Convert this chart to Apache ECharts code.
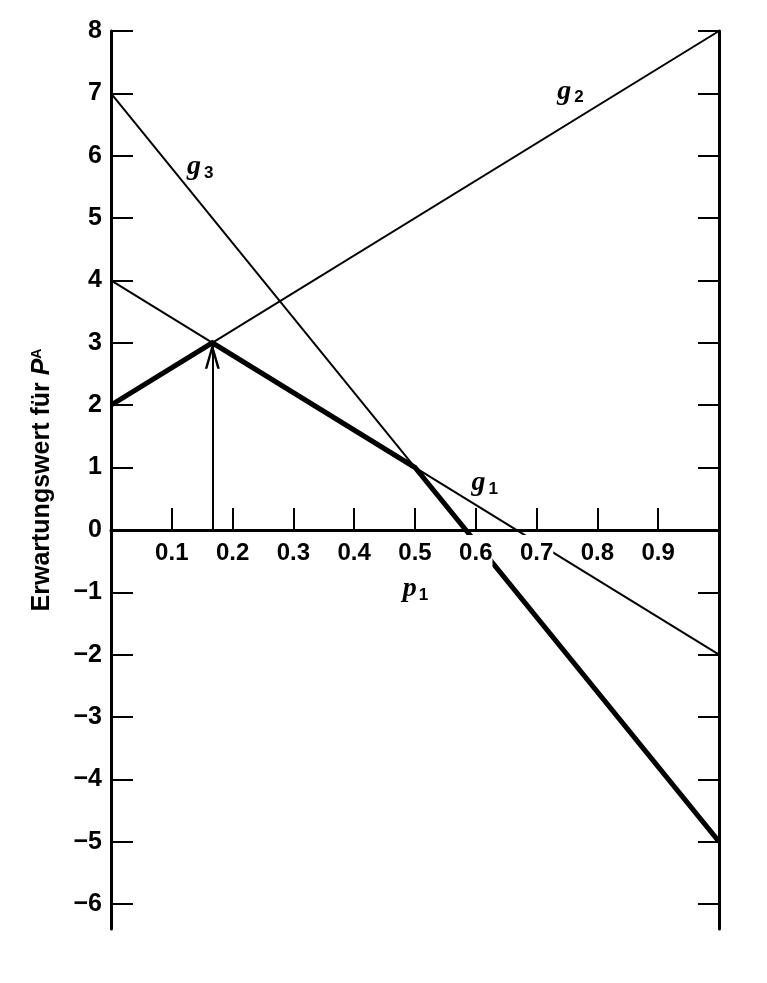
<!DOCTYPE html>
<html>
<head>
<meta charset="utf-8">
<script src="https://cdn.jsdelivr.net/npm/echarts@6/dist/echarts.min.js"></script>
<style>
html,body{margin:0;padding:0;background:#fff;}
#chart{width:767px;height:983px;}
</style>
</head>
<body>
<div id="chart"></div>
<script>
// ---- data ----
var pEnds = [0, 1];
var g1Values = [4, -2];
var g2Values = [2, 8];
var g3Values = [7, -5];
var envelopeP = [0, 1 / 6, 0.5, 1];
var envelopeValues = [2, 3, 1, -5];
var arrowP = 1 / 6;
var arrowFrom = 0;
var arrowTo = 3;
var xTicks = [0.1, 0.2, 0.3, 0.4, 0.5, 0.6, 0.7, 0.8, 0.9];
var yTicks = [-6, -5, -4, -3, -2, -1, 0, 1, 2, 3, 4, 5, 6, 7, 8];
var lineLabelSubs = ['2', '3', '1'];
var lineLabelP = [0.734, 0.125, 0.593];
var lineLabelV = [7.03, 5.82, 0.75];
var axisLabelP = 0.48;
var axisLabelV = -0.95;

function pairs(xs, ys) { return xs.map(function (x, i) { return [x, ys[i]]; }); }

var chart = echarts.init(document.getElementById('chart'), null, {renderer: 'canvas'});
var numFont = {fontFamily: 'Liberation Sans', fontWeight: 'bold', color: '#000'};

var option = {
  animation: false,
  backgroundColor: '#fff',
  grid: {left: 111, right: 48, top: 31, bottom: 54},
  xAxis: {
    type: 'value', min: 0, max: 1,
    axisLine: {onZero: true, lineStyle: {color: '#000', width: 3}},
    axisTick: {inside: true, length: 22, lineStyle: {color: '#000', width: 2}, customValues: xTicks},
    axisLabel: {show: false},
    splitLine: {show: false}
  },
  yAxis: [{
    type: 'value', min: -6.4, max: 8, position: 'left',
    name: 'Erwartungswert für {i|P}{sup|A}',
    nameLocation: 'middle', nameRotate: 90, nameGap: 56,
    nameTextStyle: {fontFamily: 'Liberation Sans', fontWeight: 'bold', fontSize: 25, color: '#000',
      rich: {
        i: {fontFamily: 'Liberation Sans', fontStyle: 'italic', fontWeight: 'bold', fontSize: 25, color: '#000'},
        sup: {fontFamily: 'Liberation Sans', fontWeight: 'bold', fontSize: 14, color: '#000', verticalAlign: 'top', padding: [0, 0, 10, 0]}
      }},
    axisLine: {show: true, lineStyle: {color: '#000', width: 3}},
    axisTick: {inside: true, length: 22, lineStyle: {color: '#000', width: 2}, customValues: yTicks},
    axisLabel: Object.assign({fontSize: 25, margin: 9, customValues: yTicks,
      formatter: function (v) { return v < 0 ? '\u2212' + Math.abs(v) : String(v); }}, numFont),
    splitLine: {show: false}
  }, {
    type: 'value', min: -6.4, max: 8, position: 'right',
    axisLine: {show: true, lineStyle: {color: '#000', width: 3}},
    axisTick: {inside: true, length: 21, lineStyle: {color: '#000', width: 2}, customValues: yTicks},
    axisLabel: {show: false},
    splitLine: {show: false}
  }],
  series: [
    {type: 'line', data: pairs(pEnds, g1Values), symbol: 'none', lineStyle: {color: '#000', width: 2}},
    {type: 'line', data: pairs(pEnds, g2Values), symbol: 'none', lineStyle: {color: '#000', width: 2}},
    {type: 'line', data: pairs(pEnds, g3Values), symbol: 'none', lineStyle: {color: '#000', width: 2}},
    {type: 'line', data: pairs(envelopeP, envelopeValues), symbol: 'none', lineStyle: {color: '#000', width: 5, join: 'miter'}},
    {type: 'line', data: [], symbol: 'none',
      markLine: {
        silent: true, label: {show: false},
        symbol: ['none', 'path://M7,-25 L7.01,-25 L7,-24.99 Z M0,25 L7,0 L14,25 L11.6,25 L7,8 L2.4,25 Z'],
        symbolSize: [15, 52],
        lineStyle: {color: '#000', width: 2, type: 'solid'},
        data: [[{coord: [arrowP, arrowFrom]}, {coord: [arrowP, arrowTo]}]]
      }},
    {type: 'scatter', symbolSize: 0, z: 5, itemStyle: {opacity: 1}, data: pairs(xTicks, xTicks.map(function () { return 0; })),
      label: Object.assign({show: true, position: 'bottom', distance: 5, fontSize: 24, opacity: 1,
        backgroundColor: '#fff', padding: [6, 0, 2, 0],
        formatter: function (p) { return p.value[0].toFixed(1); }}, numFont)},
    {type: 'scatter', symbolSize: 0, z: 5, itemStyle: {opacity: 1}, data: lineLabelSubs.map(function (s, i) { return {value: [lineLabelP[i], lineLabelV[i]], sub: s}; }),
      label: {show: true, position: 'right', distance: 0, opacity: 1,
        formatter: function (p) { return '{g|g}{s|' + p.data.sub + '}'; },
        rich: {
          g: {fontFamily: 'Liberation Serif', fontStyle: 'italic', fontWeight: 'bold', fontSize: 28, color: '#000'},
          s: {fontFamily: 'Liberation Sans', fontWeight: 'bold', fontSize: 17, color: '#000', padding: [12, 0, 0, 3]}
        }}},
    {type: 'scatter', symbolSize: 0, z: 5, itemStyle: {opacity: 1}, data: [[axisLabelP, axisLabelV]],
      label: {show: true, position: 'right', distance: 0, opacity: 1,
        formatter: '{p|p}{s|1}',
        rich: {
          p: {fontFamily: 'Liberation Serif', fontStyle: 'italic', fontWeight: 'bold', fontSize: 28, color: '#000'},
          s: {fontFamily: 'Liberation Sans', fontWeight: 'bold', fontSize: 17, color: '#000', padding: [12, 0, 0, 2]}
        }}}
  ]
};
chart.setOption(option);
</script>
</body>
</html>
